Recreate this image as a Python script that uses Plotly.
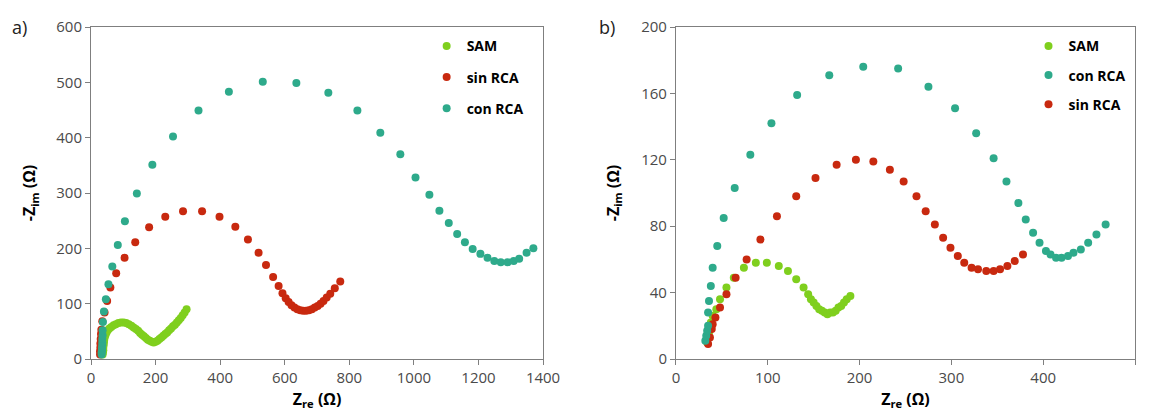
import plotly.graph_objects as go

# ---------------- Panel a) ----------------
a_sam_x = [36, 37, 38, 38, 39, 40, 41, 43, 45, 48, 52, 57, 63, 70, 77, 85, 93, 101, 109, 117, 125, 132,
           139, 146, 152, 158, 164, 170, 176, 182, 188, 194, 200, 206, 212, 218, 224, 230, 236, 242,
           248, 254, 260, 266, 272, 278, 284, 290, 296]
a_sam_y = [8, 12, 16, 20, 25, 30, 35, 40, 44, 48, 52, 55, 58, 61, 63, 65, 66, 66, 65, 63, 60, 57,
           54, 51, 47, 44, 41, 38, 35, 33, 31, 30, 31, 33, 36, 39, 42, 45, 48, 52,
           55, 59, 62, 66, 70, 74, 79, 84, 90]

a_sin_x = [28, 28, 29, 29, 30, 31, 32, 35, 42, 50, 60, 78, 104, 137, 180, 230, 285, 344, 398, 447, 486,
           519, 542, 564, 581, 593, 603, 612, 621, 630, 639, 648, 657, 666, 675, 684, 693, 702, 711,
           720, 730, 741, 755, 772]
a_sin_y = [8, 14, 21, 28, 36, 45, 53, 68, 84, 105, 129, 155, 183, 211, 238, 257, 267, 267, 257, 239, 216,
           192, 170, 148, 132, 119, 110, 103, 97, 93, 90, 88, 87, 87, 88, 90, 93, 96, 100,
           105, 111, 118, 128, 140]

a_con_x = [33, 33, 34, 34, 35, 35, 35, 36, 36, 37, 40, 46, 54, 66, 83, 105, 142, 190, 254, 333, 427, 532,
           636, 735, 825, 896, 958, 1005, 1048, 1079, 1108, 1134, 1158, 1182, 1206, 1228, 1249, 1269,
           1290, 1309, 1326, 1349, 1370]
a_con_y = [8, 12, 16, 20, 25, 30, 36, 43, 52, 67, 86, 108, 135, 167, 206, 249, 299, 351, 402, 449, 483, 501,
           499, 481, 449, 409, 370, 328, 297, 268, 246, 226, 211, 199, 190, 183, 177, 175,
           175, 177, 181, 192, 200]

# ---------------- Panel b) ----------------
b_sam_x = [34, 35, 36, 37, 38, 40, 44, 48, 55, 63, 74, 87, 99, 112, 122, 131, 139, 144, 147, 150, 153,
           156, 159, 162, 165, 168, 171, 174, 177, 180, 183, 186, 190]
b_sam_y = [10, 13, 16, 19, 22, 26, 30, 36, 43, 49, 55, 58, 58, 56, 53, 48, 43, 39, 36, 34, 32,
           30, 29, 28, 27, 28, 28, 29, 31, 32, 34, 36, 38]

b_con_x = [32, 33, 34, 35, 35, 36, 38, 40, 45, 52, 64, 81, 104, 132, 167, 204, 242, 275, 304, 327, 346,
           360, 373, 381, 389, 396, 403, 408, 414, 420, 427, 433, 441, 449, 458, 468]
b_con_y = [11, 14, 17, 20, 28, 35, 44, 55, 68, 85, 103, 123, 142, 159, 171, 176, 175, 164, 151, 136, 121,
           107, 94, 84, 76, 70, 65, 63, 61, 61, 62, 64, 66, 70, 75, 81]

b_sin_x = [35, 37, 39, 40, 43, 48, 55, 65, 77, 92, 110, 131, 152, 175, 196, 215, 233, 248, 262, 272, 282,
           291, 299, 307, 314, 322, 329, 338, 346, 353, 361, 369, 378]
b_sin_y = [9, 13, 18, 21, 25, 31, 39, 49, 60, 72, 86, 98, 109, 117, 120, 119, 114, 107, 98, 89, 81,
           73, 67, 62, 58, 55, 54, 53, 53, 54, 56, 59, 63]

colors = {"SAM": "#7fcf1e", "sin RCA": "#c8290f", "con RCA": "#2eaa8b"}

fig = go.Figure()

def add(x, y, name, xa, ya, legend, rank):
    fig.add_trace(go.Scatter(
        x=x, y=y, mode="markers", name=name, xaxis=xa, yaxis=ya,
        marker=dict(color=colors[name], size=8, line=dict(width=0)),
        legend=legend, legendgroup=legend + name, legendrank=rank,
    ))

add(a_sam_x, a_sam_y, "SAM", "x", "y", "legend", 1)
add(a_sin_x, a_sin_y, "sin RCA", "x", "y", "legend", 2)
add(a_con_x, a_con_y, "con RCA", "x", "y", "legend", 3)
add(b_sam_x, b_sam_y, "SAM", "x2", "y2", "legend2", 1)
add(b_sin_x, b_sin_y, "sin RCA", "x2", "y2", "legend2", 3)
add(b_con_x, b_con_y, "con RCA", "x2", "y2", "legend2", 2)

tickfont = dict(family="Open Sans", size=15, color="#4a4a4a")
titlefont = dict(family="Open Sans", size=16, color="#000000")
axis_common = dict(showgrid=False, zeroline=False, showline=True, mirror=True, automargin=False,
                   linecolor="#7f7f7f", linewidth=1, ticks="outside", ticklen=5,
                   tickcolor="#7f7f7f", tickfont=tickfont)

xtitle = dict(text="<b>Z<sub>re</sub> (Ω)</b>", font=titlefont, standoff=10)

legfont = dict(family="Open Sans", size=14, color="#000000", weight="bold")
fig.update_layout(
    width=1134, height=403,
    margin=dict(l=83, r=7, t=19, b=52),
    plot_bgcolor="white", paper_bgcolor="white",
    showlegend=True,
    xaxis=dict(domain=[0, 0.433], range=[0, 1400], dtick=200, anchor="y", title=xtitle, **axis_common),
    yaxis=dict(domain=[0, 1], range=[0, 600], dtick=100, anchor="x",
               title=dict(text="<b>-Z<sub>im</sub> (Ω)</b>", font=titlefont, standoff=16), **axis_common),
    xaxis2=dict(domain=[0.5603, 1], range=[0, 500], dtick=100, anchor="y2", title=xtitle, **axis_common),
    yaxis2=dict(domain=[0, 1], range=[0, 200], dtick=40, anchor="x2",
                title=dict(text="<b>-Z<sub>im</sub> (Ω)</b>", font=titlefont, standoff=17), **axis_common),
    legend=dict(x=0.3215, y=0.99, xanchor="left", yanchor="top", font=legfont,
                bgcolor="rgba(0,0,0,0)", tracegroupgap=10, itemwidth=30),
    legend2=dict(x=0.898, y=0.99, xanchor="left", yanchor="top", font=legfont,
                 bgcolor="rgba(0,0,0,0)", tracegroupgap=8, itemwidth=30),
    annotations=[
        dict(text="a)", xref="paper", yref="paper", x=-0.0776, y=1.0, xanchor="left", yanchor="middle",
             showarrow=False, font=dict(family="Open Sans", size=18, color="#222222")),
        dict(text="b)", xref="paper", yref="paper", x=0.4847, y=1.0, xanchor="left", yanchor="middle",
             showarrow=False, font=dict(family="Open Sans", size=18, color="#222222")),
    ],
)

fig.write_html("out.html")
